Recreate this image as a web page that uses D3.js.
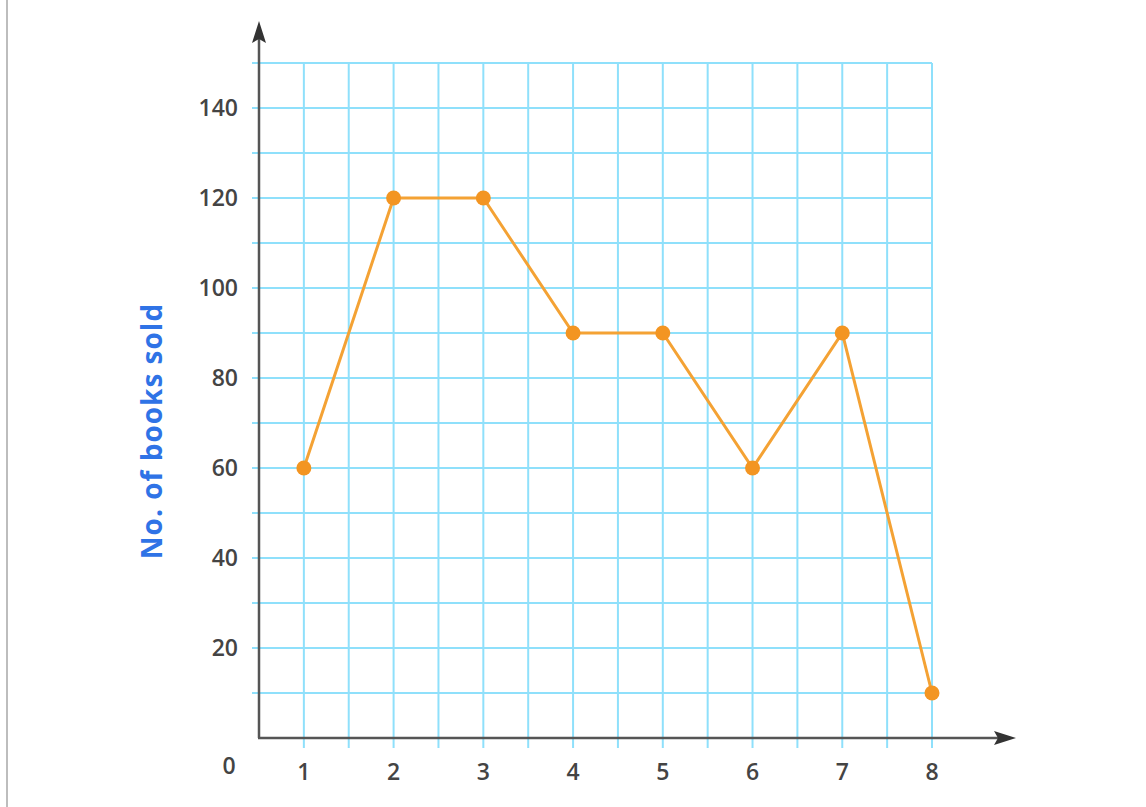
<!DOCTYPE html>
<html>
<head>
<meta charset="utf-8">
<script src="https://cdn.jsdelivr.net/npm/d3@7.9.0/dist/d3.min.js"></script>
<style>
  html, body { margin: 0; padding: 0; background: #fff; }
  svg { display: block; font-family: "Open Sans", "Lato", sans-serif; }
</style>
</head>
<body>
<svg id="chart" width="1146" height="807"></svg>
<script>
const days = [1, 2, 3, 4, 5, 6, 7, 8];
const booksSold = [60, 120, 120, 90, 90, 60, 90, 10];
const yTickLabels = [20, 40, 60, 80, 100, 120, 140];
const yTitle = "No. of books sold";

const svg = d3.select("#chart");

// frame edge on the left
svg.append("line")
  .attr("x1", 7).attr("x2", 7).attr("y1", 0).attr("y2", 807)
  .attr("stroke", "#bdbdbd").attr("stroke-width", 2);

const x = d3.scaleLinear().domain([0.5, 8]).range([259, 932]);
const y = d3.scaleLinear().domain([0, 150]).range([738, 63]);

const gridColor = "#8fe0fb";

// horizontal grid every 10
const hLines = d3.range(10, 151, 10);
svg.append("g").selectAll("line").data(hLines).join("line")
  .attr("x1", 252).attr("x2", x(8))
  .attr("y1", d => y(d)).attr("y2", d => y(d))
  .attr("stroke", gridColor).attr("stroke-width", 2);

// vertical grid every half step
const vLines = d3.range(1, 8.01, 0.5);
svg.append("g").selectAll("line").data(vLines).join("line")
  .attr("x1", d => x(d)).attr("x2", d => x(d))
  .attr("y1", y(150)).attr("y2", 748)
  .attr("stroke", gridColor).attr("stroke-width", 2);

// axes
const axisColor = "#555";
svg.append("line")
  .attr("x1", x(0.5)).attr("x2", x(0.5))
  .attr("y1", y(0)).attr("y2", 34)
  .attr("stroke", axisColor).attr("stroke-width", 2.5);
svg.append("line")
  .attr("x1", x(0.5) - 1).attr("x2", 1004)
  .attr("y1", y(0)).attr("y2", y(0))
  .attr("stroke", axisColor).attr("stroke-width", 2.5);

// arrow heads
svg.append("path")
  .attr("d", `M${x(0.5)},21 L${x(0.5) + 7},43 L${x(0.5)},39 L${x(0.5) - 7},43 Z`)
  .attr("fill", "#333");
svg.append("path")
  .attr("d", `M1016,${y(0)} L994,${y(0) - 7} L998,${y(0)} L994,${y(0) + 7} Z`)
  .attr("fill", "#333");

// y tick labels
svg.append("g").selectAll("text").data(yTickLabels).join("text")
  .attr("x", 238).attr("y", d => y(d))
  .attr("dy", "0.36em")
  .attr("text-anchor", "end")
  .attr("font-size", 23)
  .attr("font-weight", 600)
  .attr("fill", "#444")
  .text(d => d);

svg.append("text")
  .attr("x", 229).attr("y", 766).attr("dy", "0.36em")
  .attr("text-anchor", "middle")
  .attr("font-size", 23).attr("font-weight", 600).attr("fill", "#444")
  .text("0");

// x tick labels
svg.append("g").selectAll("text").data(days).join("text")
  .attr("x", d => x(d)).attr("y", 772)
  .attr("dy", "0.36em")
  .attr("text-anchor", "middle")
  .attr("font-size", 23)
  .attr("font-weight", 600)
  .attr("fill", "#444")
  .text(d => d);

// y title
svg.append("text")
  .attr("transform", "translate(152,431) rotate(-90)")
  .attr("dy", "0.36em")
  .attr("text-anchor", "middle")
  .attr("font-size", 28)
  .attr("letter-spacing", 1)
  .attr("font-weight", "bold")
  .attr("fill", "#2f73e6")
  .text(yTitle);

// data line and points
const pts = days.map((d, i) => ({ day: d, value: booksSold[i] }));
const line = d3.line().x(d => x(d.day)).y(d => y(d.value));

svg.append("path")
  .datum(pts)
  .attr("d", line)
  .attr("fill", "none")
  .attr("stroke", "#f4a234")
  .attr("stroke-width", 3);

svg.append("g").selectAll("circle").data(pts).join("circle")
  .attr("cx", d => x(d.day)).attr("cy", d => y(d.value))
  .attr("r", 7.5)
  .attr("fill", "#f39522");
</script>
</body>
</html>
